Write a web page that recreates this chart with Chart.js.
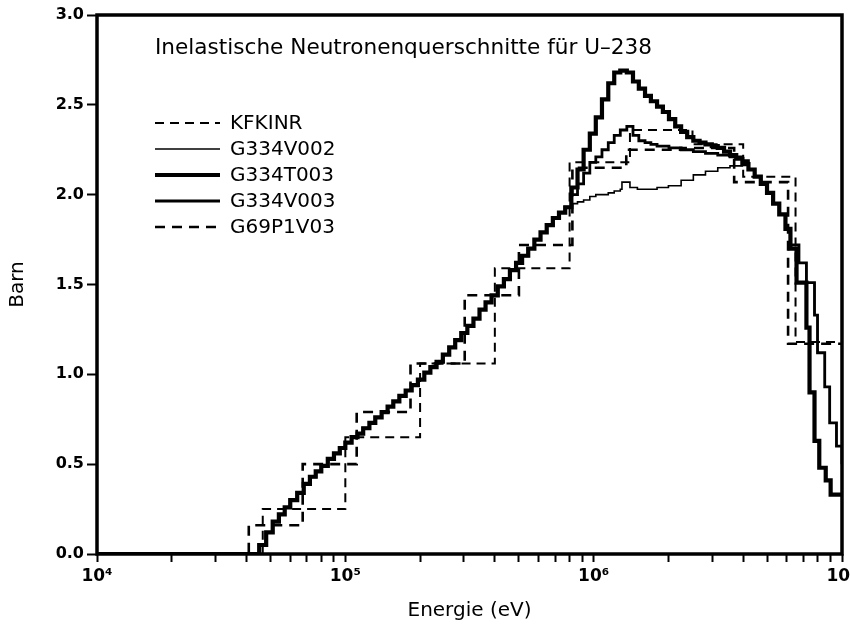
<!DOCTYPE html>
<html>
<head>
<meta charset="utf-8">
<script src="https://cdn.jsdelivr.net/npm/chart.js@4.4.1/dist/chart.umd.min.js"></script>
<style>
  html, body { margin: 0; padding: 0; background: #ffffff; }
  #wrap { width: 850px; height: 627px; position: relative; }
</style>
</head>
<body>
<div id="wrap"><canvas id="c" width="850" height="627"></canvas></div>
<script>
// ---- Data: U-238 inelastic cross sections (barn) vs. neutron energy (eV) ----

const chartTitle = 'Inelastische Neutronenquerschnitte für U–238';
const xTitle = 'Energie (eV)';
const yTitle = 'Barn';
const yTicks = [0, 0.5, 1.0, 1.5, 2.0, 2.5, 3.0];
const decadeLabels = { 4: '10⁴', 5: '10⁵', 6: '10⁶', 7: '10⁷' };

// 26-group library (group lower edges in eV, last entry = upper edge)
const kfkinrEdges = [1e4, 21.5e3, 46.5e3, 100e3, 200e3, 400e3, 800e3, 1.4e6, 2.5e6, 4.0e6, 6.5e6, 10.5e6];
const kfkinrSigma = [0, 0, 0.25, 0.65, 1.06, 1.59, 2.18, 2.36, 2.28, 2.10, 1.18];

// 69-group library
const g69Edges = [1e4, 40.85e3, 67.34e3, 111.1e3, 183e3, 302.5e3, 500e3, 821e3, 1.353e6, 2.231e6, 3.679e6, 6.0655e6, 10e6];
const g69Sigma = [0, 0.16, 0.50, 0.79, 1.06, 1.44, 1.72, 2.15, 2.25, 2.26, 2.07, 1.17];

// fine-group data, common below ~0.8 MeV (energies in keV)
const lowE = [10, 45, 48, 51, 54, 57, 60, 64, 68, 72, 76, 80, 85, 90, 95, 100, 106, 112, 118, 125, 132, 140,
  148, 156, 165, 175, 185, 196, 208, 220, 233, 247, 262, 277, 293, 310, 328, 347, 367, 388, 411, 435, 460,
  487, 515, 545, 577, 611, 647, 685, 725, 768];
const lowSigma = [0, 0.05, 0.12, 0.18, 0.22, 0.26, 0.30, 0.34, 0.39, 0.43, 0.46, 0.49, 0.53, 0.56, 0.59, 0.62,
  0.65, 0.67, 0.70, 0.73, 0.76, 0.79, 0.82, 0.85, 0.88, 0.91, 0.94, 0.97, 1.01, 1.04, 1.07, 1.11, 1.15, 1.19,
  1.23, 1.27, 1.31, 1.36, 1.40, 1.44, 1.49, 1.53, 1.58, 1.62, 1.66, 1.70, 1.75, 1.79, 1.83, 1.87, 1.90, 1.93];

// G334T003 above 0.8 MeV (keV)
const t003E = [813, 861, 911, 965, 1020, 1080, 1145, 1210, 1280, 1360, 1440, 1520, 1610, 1700, 1800, 1900,
  2010, 2130, 2250, 2380, 2520, 2670, 2820, 2990, 3160, 3350, 3540, 3750, 3970, 4200, 4450, 4710, 4990,
  5280, 5590, 5920, 6200, 6560, 7190, 7400, 7750, 8100, 8600, 9000, 10000];
const t003Sigma = [2.04, 2.14, 2.25, 2.34, 2.43, 2.53, 2.62, 2.68, 2.69, 2.68, 2.63, 2.59, 2.55, 2.52, 2.49,
  2.46, 2.42, 2.38, 2.35, 2.32, 2.30, 2.29, 2.28, 2.27, 2.26, 2.24, 2.22, 2.20, 2.17, 2.14, 2.10, 2.06, 2.01,
  1.95, 1.89, 1.81, 1.70, 1.51, 1.26, 0.90, 0.63, 0.48, 0.41, 0.33, 0.33];

// G334V003 above 0.8 MeV (keV)
const v003E = [813, 861, 911, 965, 1020, 1080, 1145, 1210, 1280, 1360, 1440, 1520, 1610, 1700, 1800, 2010,
  2250, 2520, 2820, 3160, 3540, 3970, 4200, 4450, 4710, 4990, 5280, 5590, 5920, 6200, 6710, 7190, 7750,
  7970, 8520, 8920, 9500, 10000];
const v003Sigma = [2.00, 2.06, 2.12, 2.18, 2.21, 2.25, 2.29, 2.33, 2.36, 2.38, 2.33, 2.30, 2.29, 2.28, 2.27,
  2.26, 2.25, 2.24, 2.23, 2.22, 2.21, 2.19, 2.14, 2.10, 2.06, 2.01, 1.95, 1.89, 1.81, 1.72, 1.62, 1.51, 1.33,
  1.12, 0.93, 0.73, 0.60, 0.50];

// G334V002 above 0.8 MeV (keV)
const v002E = [813, 861, 911, 965, 1020, 1145, 1210, 1280, 1300, 1400, 1500, 1800, 2000, 2250, 2520, 2820,
  3160, 3540, 3970, 4200, 4450, 4710, 4990, 5280, 5590, 5920, 6200, 6710, 7190, 7750, 7970, 8520, 8920,
  9500, 10000];
const v002Sigma = [1.95, 1.96, 1.97, 1.99, 2.00, 2.01, 2.02, 2.03, 2.07, 2.04, 2.03, 2.04, 2.05, 2.08, 2.11,
  2.13, 2.15, 2.16, 2.17, 2.14, 2.10, 2.06, 2.01, 1.95, 1.89, 1.81, 1.72, 1.62, 1.51, 1.33, 1.12, 0.93, 0.73,
  0.60, 0.50];

// ---- helpers ----
// group values: value i holds from edge i to edge i+1
function groupPoints(edges, sigma) {
  const pts = edges.slice(0, -1).map((e, i) => ({ x: e, y: sigma[i] }));
  pts.push({ x: edges[edges.length - 1], y: sigma[sigma.length - 1] });
  return pts;
}
function finePoints(eKeV, sigma) {
  return eKeV.map((e, i) => ({ x: e * 1e3, y: sigma[i] }));
}
const lowPts = finePoints(lowE, lowSigma);

const datasets = [
  { label: 'KFKINR', data: groupPoints(kfkinrEdges, kfkinrSigma), borderWidth: 2, borderDash: [9, 6] },
  { label: 'G334V002', data: lowPts.concat(finePoints(v002E, v002Sigma)), borderWidth: 1.6, borderDash: [] },
  { label: 'G334T003', data: lowPts.concat(finePoints(t003E, t003Sigma)), borderWidth: 4.2, borderDash: [] },
  { label: 'G334V003', data: lowPts.concat(finePoints(v003E, v003Sigma)), borderWidth: 2.8, borderDash: [] },
  { label: 'G69P1V03', data: groupPoints(g69Edges, g69Sigma), borderWidth: 2.6, borderDash: [10, 7] }
].map(d => Object.assign(d, {
  borderColor: '#000', backgroundColor: '#000', stepped: 'before', pointRadius: 0, fill: false, tension: 0
}));

const FONT = 'DejaVu Sans, Verdana, sans-serif';

// title and legend drawn inside the plot frame
const annotations = {
  id: 'annotations',
  afterDraw(chart) {
    const { ctx, chartArea: a } = chart;
    ctx.save();
    // frame
    ctx.strokeStyle = '#000';
    ctx.lineWidth = 3.5;
    ctx.strokeRect(a.left, a.top, a.right - a.left, a.bottom - a.top);
    // title
    ctx.fillStyle = '#000';
    ctx.font = '21.6px ' + FONT;
    ctx.textBaseline = 'alphabetic';
    ctx.textAlign = 'left';
    ctx.fillText(chartTitle, a.left + 58, a.top + 39);
    // legend
    ctx.font = '20px ' + FONT;
    ctx.textBaseline = 'middle';
    chart.data.datasets.forEach((ds, i) => {
      const y = a.top + 108 + i * 26;
      ctx.beginPath();
      ctx.setLineDash(ds.borderDash || []);
      ctx.lineWidth = ds.borderWidth;
      ctx.moveTo(a.left + 58, y);
      ctx.lineTo(a.left + 123, y);
      ctx.stroke();
      ctx.setLineDash([]);
      ctx.fillText(ds.label, a.left + 133, y + 1);
    });
    ctx.restore();
  }
};

new Chart(document.getElementById('c'), {
  type: 'line',
  data: { datasets },
  options: {
    responsive: false,
    animation: false,
    devicePixelRatio: 1,
    layout: { padding: { left: 0, top: 15, right: 8, bottom: 0 } },
    plugins: { legend: { display: false }, tooltip: { enabled: false } },
    scales: {
      x: {
        type: 'logarithmic',
        position: 'bottom',
        min: 1e4,
        max: 1e7,
        afterBuildTicks(scale) {
          const t = [];
          for (let p = 4; p < 7; p++) for (let m = 1; m < 10; m++) t.push({ value: m * Math.pow(10, p) });
          t.push({ value: 1e7 });
          scale.ticks = t;
        },
        afterFit(scale) { scale.height = 73; scale.paddingLeft = 0; scale.paddingRight = 0; },
        ticks: {
          autoSkip: false, maxRotation: 0, minRotation: 0, padding: 4, color: '#000',
          font: { family: FONT, size: 17, weight: 'bold' },
          callback(v) {
            const p = Math.round(Math.log10(v));
            return Math.abs(Math.log10(v) - p) < 1e-9 ? decadeLabels[p] : '';
          }
        },
        grid: { drawOnChartArea: false, drawTicks: true, tickLength: 8, tickWidth: 2, tickColor: '#000' },
        border: { display: false },
        title: { display: true, text: xTitle, color: '#000', font: { family: FONT, size: 20 }, padding: { top: 0, bottom: 4 } }
      },
      y: {
        type: 'linear',
        min: 0,
        max: 3,
        afterBuildTicks(scale) { scale.ticks = yTicks.map(v => ({ value: v })); },
        afterFit(scale) { scale.width = 97; scale.paddingTop = 0; scale.paddingBottom = 0; },
        ticks: {
          padding: 3, color: '#000',
          font: { family: FONT, size: 16, weight: 'bold' },
          callback(v) { return Number(v).toFixed(1); }
        },
        grid: { drawOnChartArea: false, drawTicks: true, tickLength: 10, tickWidth: 2, tickColor: '#000' },
        border: { display: false },
        title: { display: true, text: yTitle, color: '#000', font: { family: FONT, size: 20 }, padding: { top: 6, bottom: 0 } }
      }
    }
  },
  plugins: [annotations]
});
</script>
</body>
</html>
